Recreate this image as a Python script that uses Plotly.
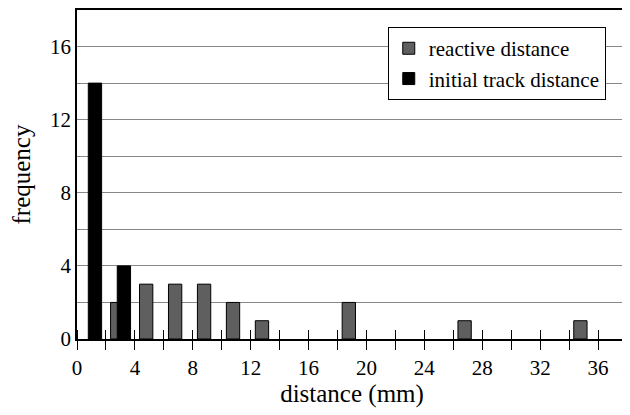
import plotly.graph_objects as go

# histogram bins (bin centres in mm) and counts
reactive_x = [3, 5, 7, 9, 11, 13, 19, 27, 35]
reactive_freq = [2, 3, 3, 3, 2, 1, 2, 1, 1]
initial_x = [1, 3]
initial_freq = [14, 4]

x_ticks = [0, 4, 8, 12, 16, 20, 24, 28, 32, 36]
y_ticks = [0, 4, 8, 12, 16]

font = "Liberation Serif"

fig = go.Figure()
fig.add_trace(go.Bar(x=reactive_x, y=reactive_freq, name="reactive distance",
                     width=0.92, offset=-0.68,
                     marker=dict(color="#5f5f5f", line=dict(color="black", width=1))))
fig.add_trace(go.Bar(x=initial_x, y=initial_freq, name="initial track distance",
                     width=0.92, offset=-0.22,
                     marker=dict(color="black", line=dict(color="black", width=1))))
# invisible trace so the second x axis (upper half of the crossing ticks) gets drawn
fig.add_trace(go.Scatter(x=reactive_x, y=reactive_freq, xaxis="x2", mode="markers",
                         marker=dict(opacity=0), showlegend=False, hoverinfo="skip"))

# page body has an 8px margin, so the figure is 8px smaller than the window
fig.update_layout(
    width=622, height=407,
    margin=dict(l=69, r=3, t=2, b=76),
    barmode="overlay",
    plot_bgcolor="white", paper_bgcolor="white",
    font=dict(family=font, size=21, color="black"),
    legend=dict(x=0.565, y=0.948, xanchor="left", yanchor="top",
                bgcolor="white", bordercolor="black", borderwidth=1,
                font=dict(family=font, size=21), traceorder="normal"),
    xaxis=dict(range=[0, 38], tickvals=x_ticks, ticks="outside", ticklen=9,
               tickwidth=1.2, tickcolor="black", automargin=False,
               minor=dict(dtick=2, tick0=0, ticks="outside", ticklen=9,
                          tickwidth=1.2, tickcolor="black"),
               showline=True, linecolor="black", linewidth=1.5, mirror=True,
               showgrid=False, zeroline=False,
               title=dict(text="distance (mm)", standoff=4)),
    xaxis2=dict(range=[0, 38], overlaying="x", anchor="free", position=0,
                side="top", dtick=2, tick0=0, ticks="outside", ticklen=9,
                tickwidth=1.2, tickcolor="black", showticklabels=False,
                showgrid=False, showline=False, zeroline=False, automargin=False),
    yaxis=dict(range=[0, 18], tickvals=y_ticks, ticks="", automargin=False,
               showline=True, linecolor="black", linewidth=1.5, mirror=True,
               showgrid=True, gridcolor="#888888", gridwidth=1,
               minor=dict(dtick=2, tick0=0, showgrid=True, gridcolor="#888888",
                          gridwidth=1),
               zeroline=False,
               title=dict(text="frequency", standoff=12)),
)

fig.write_html("out.html")
